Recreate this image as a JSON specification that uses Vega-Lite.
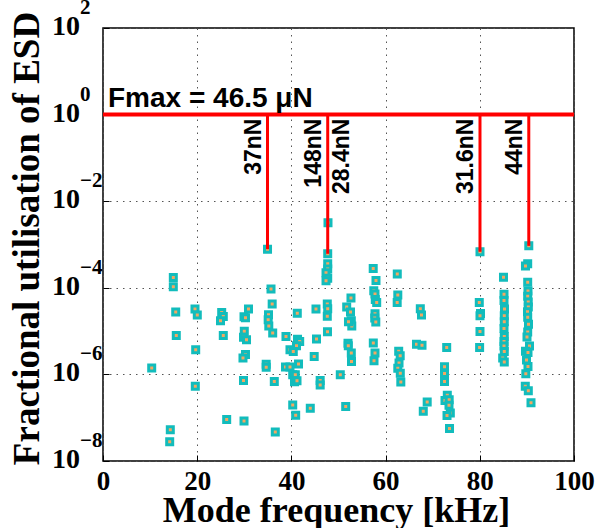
{
  "$schema": "https://vega.github.io/schema/vega-lite/v6.json",
  "width": 471,
  "height": 433,
  "autosize": "none",
  "padding": {"left": 103, "top": 28, "right": 24, "bottom": 67},
  "background": "white",
  "config": {"view": {"stroke": "black", "strokeWidth": 1.5}, "font": "Liberation Sans"},
  "datasets": {
    "pts": [
      {"f":10.34,"u":1.4e-6},{"f":14.93,"u":1.74e-4},{"f":14.93,"u":1.06e-4},{"f":15.44,"u":2.75e-5},{"f":15.56,"u":7.9e-6},
      {"f":14.29,"u":5.3e-8},{"f":14.16,"u":2.8e-8},{"f":19.53,"u":3.25e-5},{"f":20.02,"u":2.35e-5},{"f":19.68,"u":3.7e-6},
      {"f":19.6,"u":5.3e-7},{"f":25.2,"u":2.7e-5},{"f":25.54,"u":2.17e-5},{"f":24.95,"u":1.73e-5},{"f":25.54,"u":7.9e-6},
      {"f":26.26,"u":9.1e-8},{"f":30.89,"u":3.25e-5},{"f":29.94,"u":2.14e-5},{"f":30.25,"u":2.03e-5},{"f":30.0,"u":9.9e-6},
      {"f":29.83,"u":7.2e-6},{"f":30.47,"u":6.3e-6},{"f":30.25,"u":2.9e-6},{"f":29.72,"u":2.4e-6},{"f":29.83,"u":7.2e-7},
      {"f":29.94,"u":8.4e-8},{"f":34.93,"u":7.8e-4},{"f":35.67,"u":9.4e-5},{"f":35.92,"u":4.2e-5},{"f":35.14,"u":2.38e-5},
      {"f":35.07,"u":1.82e-5},{"f":35.2,"u":1.31e-5},{"f":36.03,"u":9.0e-6},{"f":34.65,"u":1.72e-6},{"f":34.65,"u":1.47e-6},
      {"f":36.37,"u":6.9e-7},{"f":36.58,"u":4.7e-8},{"f":38.85,"u":7.5e-6},{"f":41.3,"u":6.5e-6},{"f":41.76,"u":5.75e-6},
      {"f":41.08,"u":4.6e-6},{"f":39.7,"u":3.7e-6},{"f":40.4,"u":3.4e-6},{"f":41.25,"u":2.6e-5},{"f":45.22,"u":3.25e-5},
      {"f":45.33,"u":6.6e-6},{"f":44.84,"u":2.6e-6},{"f":38.75,"u":1.48e-6},{"f":39.7,"u":1.48e-6},{"f":41.51,"u":1.73e-6},
      {"f":40.28,"u":9.8e-7},{"f":40.83,"u":9.8e-7},{"f":40.66,"u":6.8e-7},{"f":41.19,"u":7.1e-7},{"f":40.28,"u":1.97e-7},
      {"f":40.91,"u":1.14e-7},{"f":44.01,"u":1.65e-7},{"f":46.11,"u":7.2e-7},{"f":46.11,"u":5.7e-7},{"f":47.77,"u":3.16e-3},
      {"f":47.71,"u":6.1e-4},{"f":47.71,"u":3.6e-4},{"f":47.71,"u":2.7e-4},{"f":47.35,"u":2.22e-4},{"f":47.71,"u":1.66e-4},
      {"f":47.35,"u":1.45e-4},{"f":47.62,"u":4.2e-5},{"f":47.71,"u":3.3e-5},{"f":47.62,"u":2.2e-5},{"f":47.66,"u":9.6e-6},
      {"f":50.38,"u":9.8e-7},{"f":51.53,"u":1.81e-7},{"f":52.65,"u":5.8e-5},{"f":51.74,"u":3.6e-5},{"f":52.55,"u":2.75e-5},
      {"f":52.72,"u":1.73e-5},{"f":52.82,"u":1.31e-5},{"f":52.12,"u":1.64e-5},{"f":52.02,"u":5.25e-6},{"f":52.08,"u":4.6e-6},
      {"f":52.72,"u":3.1e-6},{"f":52.76,"u":1.99e-6},{"f":57.37,"u":2.79e-4},{"f":57.96,"u":1.47e-4},{"f":62.48,"u":2.07e-4},
      {"f":57.49,"u":8.5e-5},{"f":57.75,"u":7.2e-5},{"f":57.81,"u":5.4e-5},{"f":58.11,"u":4.6e-5},{"f":57.75,"u":2.5e-5},
      {"f":57.69,"u":2.0e-5},{"f":57.92,"u":1.63e-5},{"f":62.59,"u":6.8e-5},{"f":62.46,"u":4.6e-5},{"f":57.39,"u":5.3e-6},
      {"f":57.75,"u":3.1e-6},{"f":57.54,"u":2.06e-6},{"f":62.78,"u":3.42e-6},{"f":63.1,"u":2.7e-6},{"f":62.85,"u":1.83e-6},
      {"f":62.59,"u":1.38e-6},{"f":63.12,"u":1.07e-6},{"f":63.23,"u":6.7e-7},{"f":67.37,"u":3.3e-5},{"f":67.62,"u":2.35e-5},
      {"f":66.56,"u":5.0e-6},{"f":67.73,"u":4.7e-6},{"f":68.83,"u":2.3e-7},{"f":68.0,"u":1.4e-7},{"f":72.97,"u":4.2e-6},
      {"f":72.51,"u":1.5e-6},{"f":72.51,"u":1.05e-6},{"f":72.51,"u":6.9e-7},{"f":73.1,"u":3.3e-7},{"f":72.61,"u":2.5e-7},
      {"f":73.5,"u":2.6e-7},{"f":73.46,"u":1.95e-7},{"f":73.74,"u":1.28e-7},{"f":73.04,"u":1.13e-7},{"f":73.57,"u":5.6e-8},
      {"f":80.04,"u":6.8e-4},{"f":79.89,"u":4.6e-5},{"f":80.15,"u":2.55e-5},{"f":80.04,"u":2.25e-5},{"f":80.04,"u":9.8e-6},
      {"f":79.96,"u":4.2e-6},{"f":85.03,"u":1.75e-4},{"f":85.14,"u":7.1e-5},{"f":85.14,"u":5.1e-5},{"f":85.24,"u":3.25e-5},
      {"f":85.2,"u":2.25e-5},{"f":85.2,"u":1.64e-5},{"f":85.14,"u":1.15e-5},{"f":85.2,"u":7.5e-6},{"f":85.14,"u":5.75e-6},
      {"f":85.14,"u":4.5e-6},{"f":85.2,"u":3.4e-6},{"f":84.86,"u":2.4e-6},{"f":85.2,"u":1.93e-6},{"f":90.4,"u":9.3e-4},
      {"f":90.17,"u":3.57e-4},{"f":89.7,"u":3.2e-4},{"f":90.17,"u":1.34e-4},{"f":90.23,"u":8.4e-5},{"f":90.17,"u":6.4e-5},
      {"f":90.28,"u":4.7e-5},{"f":90.3,"u":3.6e-5},{"f":90.13,"u":2.8e-5},{"f":90.17,"u":2.09e-5},{"f":90.34,"u":1.44e-5},
      {"f":90.17,"u":9.5e-6},{"f":90.02,"u":7.3e-6},{"f":90.55,"u":4.5e-6},{"f":89.7,"u":3.42e-6},{"f":90.23,"u":3.2e-6},
      {"f":89.92,"u":2.14e-6},{"f":90.23,"u":1.52e-6},{"f":89.77,"u":1.03e-6},{"f":89.66,"u":5.3e-7},{"f":90.3,"u":4.2e-7},
      {"f":90.87,"u":2.2e-7}
    ],
    "hline": [{"f": 0, "f2": 100, "u": 1, "t": "Fmax = 46.5 μN"}],
    "vlines": [
      {"f": 34.93, "u": 1, "u2": 7.8e-4},
      {"f": 47.71, "u": 1, "u2": 6.1e-4},
      {"f": 80.04, "u": 1, "u2": 6.8e-4},
      {"f": 90.4, "u": 1, "u2": 9.3e-4}
    ],
    "labels": [
      {"f": 34.93, "u": 1, "t": "37nN", "side": "L"},
      {"f": 47.71, "u": 1, "t": "148nN", "side": "L"},
      {"f": 47.71, "u": 1, "t": "28.4nN", "side": "R"},
      {"f": 80.04, "u": 1, "t": "31.6nN", "side": "L"},
      {"f": 90.4, "u": 1, "t": "44nN", "side": "L"}
    ],
    "yt": [
      {"f": 0, "u": 1e-8, "b": "10", "e": "−8"},
      {"f": 0, "u": 1e-6, "b": "10", "e": "−6"},
      {"f": 0, "u": 1e-4, "b": "10", "e": "−4"},
      {"f": 0, "u": 1e-2, "b": "10", "e": "−2"},
      {"f": 0, "u": 1, "b": "10", "e": "0"},
      {"f": 0, "u": 100, "b": "10", "e": "2"}
    ]
  },
  "encoding": {
    "x": {
      "field": "f", "type": "quantitative",
      "scale": {"domain": [0, 100], "nice": false},
      "axis": {
        "title": "Mode frequency [kHz]",
        "values": [0, 20, 40, 60, 80, 100],
        "format": "d",
        "labelFont": "Liberation Serif", "labelFontWeight": "bold", "labelFontSize": 27, "labelColor": "black",
        "labelFlush": false, "labelOverlap": false, "labelBaseline": "alphabetic", "labelPadding": 34,
        "tickSize": -6, "tickColor": "black", "tickWidth": 1,
        "domain": false,
        "grid": true, "gridColor": "#555555", "gridDash": [1.5, 5], "gridWidth": 1, "gridOpacity": 1,
        "titleFont": "Liberation Serif", "titleFontWeight": "bold", "titleFontSize": 36, "titleColor": "black",
        "titleX": 233, "titleY": 60, "titleBaseline": "alphabetic", "titleAlign": "center"
      }
    },
    "y": {
      "field": "u", "type": "quantitative",
      "scale": {"type": "log", "domain": [1e-8, 100], "nice": false},
      "axis": {
        "title": "Fractional utilisation of ESD",
        "values": [1e-8, 1e-6, 1e-4, 1e-2, 1, 100],
        "labels": false,
        "tickSize": -6, "tickColor": "black", "tickWidth": 1,
        "domain": false,
        "grid": true, "gridColor": "#555555", "gridDash": [1.5, 5], "gridWidth": 1, "gridOpacity": 1,
        "titleFont": "Liberation Serif", "titleFontWeight": "bold", "titleFontSize": 37, "titleColor": "black",
        "titleX": -76, "titleY": 210, "titleAngle": 270, "titleBaseline": "middle", "titleAlign": "center"
      }
    }
  },
  "layer": [
    {
      "data": {"name": "pts"},
      "mark": {"type": "point", "shape": "square", "filled": true, "fill": "#f4a860", "stroke": "#12bcbc", "strokeWidth": 3, "size": 36, "opacity": 1, "fillOpacity": 1, "strokeOpacity": 1}
    },
    {
      "data": {"name": "hline"},
      "mark": {"type": "rule", "color": "#ff0000", "strokeWidth": 4},
      "encoding": {"x2": {"field": "f2"}}
    },
    {
      "data": {"name": "vlines"},
      "mark": {"type": "rule", "color": "#ff0000", "strokeWidth": 3},
      "encoding": {"y2": {"field": "u2"}}
    },
    {
      "data": {"name": "labels"},
      "transform": [{"filter": "datum.side == 'L'"}],
      "mark": {"type": "text", "angle": 270, "align": "right", "baseline": "bottom", "dx": -4, "dy": -2, "font": "Liberation Sans", "fontWeight": "bold", "fontSize": 23, "color": "black"},
      "encoding": {"text": {"field": "t"}}
    },
    {
      "data": {"name": "labels"},
      "transform": [{"filter": "datum.side == 'R'"}],
      "mark": {"type": "text", "angle": 270, "align": "right", "baseline": "top", "dx": -4, "dy": 3, "font": "Liberation Sans", "fontWeight": "bold", "fontSize": 23, "color": "black"},
      "encoding": {"text": {"field": "t"}}
    },
    {
      "data": {"name": "hline"},
      "mark": {"type": "text", "align": "left", "baseline": "alphabetic", "dx": 5, "dy": -8, "font": "Liberation Sans", "fontWeight": "bold", "fontSize": 28, "color": "black"},
      "encoding": {"text": {"field": "t"}}
    },
    {
      "data": {"name": "yt"},
      "mark": {"type": "text", "align": "right", "baseline": "middle", "dx": -23, "dy": -1, "font": "Liberation Serif", "fontWeight": "bold", "fontSize": 28, "color": "black"},
      "encoding": {"text": {"field": "b"}}
    },
    {
      "data": {"name": "yt"},
      "mark": {"type": "text", "align": "left", "baseline": "middle", "dx": -23, "dy": -20, "font": "Liberation Serif", "fontWeight": "bold", "fontSize": 21, "color": "black"},
      "encoding": {"text": {"field": "e"}}
    }
  ]
}
